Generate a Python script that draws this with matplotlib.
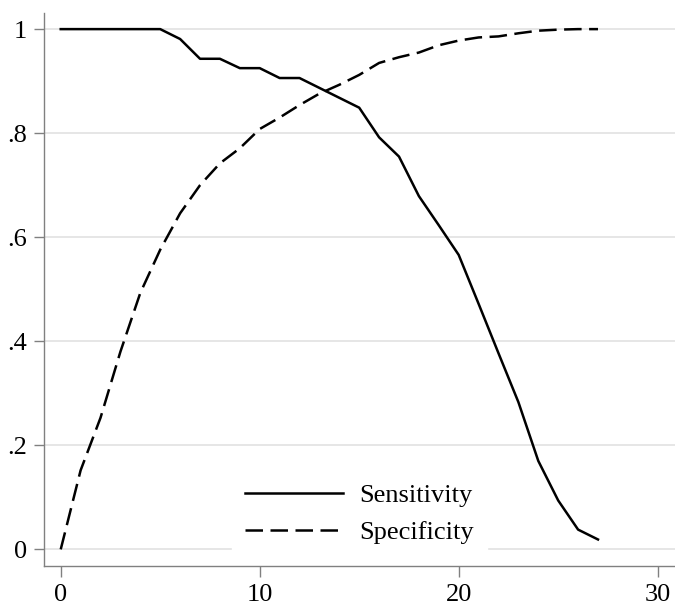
import numpy as np
import matplotlib
matplotlib.use("Agg")
import matplotlib.pyplot as plt

#==============================================================================
# Data (cutoff vs sensitivity / specificity)
#==============================================================================
cutoff = list(range(0, 28))

sensitivity = [1.0, 1.0, 1.0, 1.0, 1.0, 1.0, 0.981, 0.943, 0.943, 0.925,
               0.925, 0.906, 0.906, 0.887, 0.868, 0.849, 0.792, 0.755, 0.679,
               0.623, 0.566, 0.472, 0.377, 0.283, 0.170, 0.094, 0.038, 0.019]

specificity = [0.0, 0.152, 0.253, 0.380, 0.493, 0.576, 0.646, 0.700, 0.742,
               0.771, 0.808, 0.830, 0.854, 0.876, 0.893, 0.912, 0.935, 0.946,
               0.955, 0.969, 0.978, 0.984, 0.986, 0.992, 0.997, 0.999, 1.0, 1.0]

xticks = [0, 10, 20, 30]
yticks = [0, 0.2, 0.4, 0.6, 0.8, 1.0]
ytick_labels = ['0', '.2', '.4', '.6', '.8', '1']

#==============================================================================
# Plot
#==============================================================================
plt.rcParams['font.family'] = ['Liberation Serif', 'DejaVu Serif']

fig = plt.figure(figsize=(6.75, 6.10), dpi=100)
ax = fig.add_axes([0.0652, 0.0721, 0.9348, 0.9066])

for y in yticks:
    ax.axhline(y, color='#e6e6e6', lw=1.4, zorder=0)

ax.plot(cutoff, sensitivity, color='black', lw=1.8, label='Sensitivity')
ax.plot(cutoff, specificity, color='black', lw=1.8, dashes=(7, 3),
        label='Specificity')

ax.set_xlim(-0.84, 30.87)
ax.set_ylim(-0.032, 1.031)
ax.set_xticks(xticks)
ax.set_yticks(yticks)
ax.set_yticklabels(ytick_labels)

for side in ['top', 'right']:
    ax.spines[side].set_visible(False)
for side in ['left', 'bottom']:
    ax.spines[side].set_color('#808080')
    ax.spines[side].set_linewidth(1.0)

ax.tick_params(axis='both', colors='#808080', labelcolor='black',
               width=1.0, labelsize=19)
ax.tick_params(axis='x', length=8, pad=5)
ax.tick_params(axis='y', length=7, pad=5)

leg = ax.legend(loc='lower center', bbox_to_anchor=(0.5, -0.008),
                fontsize=19, frameon=True, handlelength=3.7,
                handletextpad=0.6, labelspacing=0.5, borderpad=0.5)
leg.get_frame().set_facecolor('white')
leg.get_frame().set_edgecolor('white')
leg.get_frame().set_alpha(1.0)
leg.get_frame().set_boxstyle('square', pad=0)

fig.savefig('out.png', dpi=100)
